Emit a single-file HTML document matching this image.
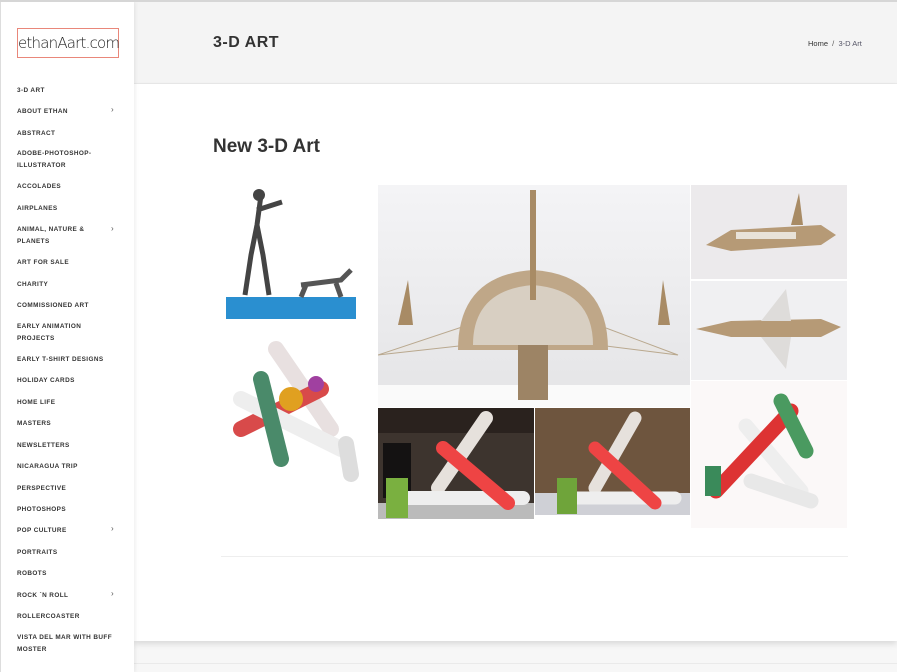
<!DOCTYPE html>
<html><head><meta charset="utf-8">
<style>
*{box-sizing:border-box;margin:0;padding:0}
body{width:897px;height:672px;overflow:hidden;background:#f7f7f7;font-family:"Liberation Sans",sans-serif;position:relative}
#topline{position:absolute;left:0;top:0;width:897px;height:2px;background:#d6d6d6;z-index:3}
#side{position:absolute;left:0;top:2px;width:134px;height:670px;background:#fff;border-left:1px solid #ddd;box-shadow:1px 0 4px rgba(0,0,0,.08);z-index:2}
#logo{position:absolute;left:16px;top:26px;width:102px;height:30px;border:1px solid #e9877a;font-family:"DejaVu Sans",sans-serif;font-size:15px;color:#222;line-height:28px;text-align:center;letter-spacing:-0.8px;font-weight:300}
.nav{position:absolute;left:16px;font-size:6.4px;font-weight:bold;color:#333;letter-spacing:.4px;line-height:12px;white-space:nowrap}
.arr{position:absolute;left:110px;font-size:8px;color:#555}
#head{position:absolute;left:134px;top:2px;width:763px;height:82px;background:#f4f4f4;border-bottom:1px solid #eaeaea}
#title{position:absolute;left:213px;top:34px;font-size:16px;font-weight:bold;color:#333;letter-spacing:.5px}
#crumb{position:absolute;left:808px;top:39px;font-size:7.5px;color:#555}
#main{position:absolute;left:134px;top:84px;width:763px;height:557px;background:#fff;box-shadow:0 3px 6px rgba(0,0,0,.12)}
#h2{position:absolute;left:213px;top:136px;font-size:19px;font-weight:bold;color:#333}
.img{position:absolute;overflow:hidden}
#hr{position:absolute;left:221px;top:556px;width:627px;height:1px;background:#eee}
#foot{position:absolute;left:134px;top:663px;width:763px;height:1px;background:#eaeaea}
</style></head><body>
<div id="topline"></div>
<div id="side">
<div id="logo">ethanAart.com</div>
<div class="nav" style="top:83px">3-D ART</div>
<div class="nav" style="top:104px">ABOUT ETHAN</div><span class="arr" style="top:103px">›</span>
<div class="nav" style="top:126px">ABSTRACT</div>
<div class="nav" style="top:146px">ADOBE-PHOTOSHOP-<br>ILLUSTRATOR</div>
<div class="nav" style="top:179px">ACCOLADES</div>
<div class="nav" style="top:201px">AIRPLANES</div>
<div class="nav" style="top:222px">ANIMAL, NATURE &amp;<br>PLANETS</div><span class="arr" style="top:222px">›</span>
<div class="nav" style="top:255px">ART FOR SALE</div>
<div class="nav" style="top:277px">CHARITY</div>
<div class="nav" style="top:298px">COMMISSIONED ART</div>
<div class="nav" style="top:319px">EARLY ANIMATION<br>PROJECTS</div>
<div class="nav" style="top:352px">EARLY T-SHIRT DESIGNS</div>
<div class="nav" style="top:373px">HOLIDAY CARDS</div>
<div class="nav" style="top:395px">HOME LIFE</div>
<div class="nav" style="top:416px">MASTERS</div>
<div class="nav" style="top:438px">NEWSLETTERS</div>
<div class="nav" style="top:459px">NICARAGUA TRIP</div>
<div class="nav" style="top:481px">PERSPECTIVE</div>
<div class="nav" style="top:502px">PHOTOSHOPS</div>
<div class="nav" style="top:523px">POP CULTURE</div><span class="arr" style="top:522px">›</span>
<div class="nav" style="top:545px">PORTRAITS</div>
<div class="nav" style="top:566px">ROBOTS</div>
<div class="nav" style="top:588px">ROCK `N ROLL</div><span class="arr" style="top:587px">›</span>
<div class="nav" style="top:609px">ROLLERCOASTER</div>
<div class="nav" style="top:630px">VISTA DEL MAR WITH BUFF<br>MOSTER</div>
</div>
<div id="head"></div>
<div id="title">3-D ART</div>
<div id="crumb"><span style="color:#333">Home</span> &nbsp;/&nbsp; <span style="color:#556">3-D Art</span></div>
<div id="main"></div>
<div id="h2">New 3-D Art</div>

<svg class="img" style="left:221px;top:185px" width="156" height="142">
<rect width="156" height="142" fill="#fff"/>
<rect x="5" y="112" width="130" height="22" fill="#2a8fd0"/>
<path d="M40 10 l-4 30 l-6 30 l-6 40 M36 40 l6 30 l6 40 M36 25 l25 -8" stroke="#444" stroke-width="5" fill="none"/>
<circle cx="38" cy="10" r="6" fill="#444"/>
<path d="M80 100 l40 -5 l10 -10 M85 100 l-5 12 M115 98 l5 14" stroke="#555" stroke-width="5" fill="none"/>
</svg>
<svg class="img" style="left:221px;top:329px" width="156" height="160">
<rect width="156" height="160" fill="#fff"/>
<g stroke-width="16" stroke-linecap="round">
<line x1="55" y1="20" x2="110" y2="100" stroke="#e8e0e0"/>
<line x1="20" y1="100" x2="100" y2="60" stroke="#d84a4a"/>
<line x1="20" y1="70" x2="120" y2="120" stroke="#eee"/>
<line x1="40" y1="50" x2="60" y2="130" stroke="#4a8a6a"/>
<line x1="125" y1="115" x2="130" y2="145" stroke="#ddd"/>
</g>
<circle cx="70" cy="70" r="12" fill="#e0a020"/><circle cx="95" cy="55" r="8" fill="#a040a0"/>
</svg>
<svg class="img" style="left:378px;top:185px" width="312" height="222">
<defs><linearGradient id="g1" x1="0" y1="0" x2="0" y2="1"><stop offset="0" stop-color="#f4f4f6"/><stop offset="1" stop-color="#e4e4e6"/></linearGradient></defs>
<rect width="312" height="222" fill="url(#g1)"/>
<rect x="0" y="200" width="312" height="22" fill="#fafafa"/>
<polygon points="0,170 90,140 220,140 300,170 220,160 90,160" fill="#e8e6e4" stroke="#b9a88e"/>
<path d="M80 165 Q80 90 155 85 Q230 90 230 165 Z" fill="#bfa788"/>
<path d="M95 160 Q95 105 155 100 Q215 105 215 160 Z" fill="#d8cfc2"/>
<rect x="152" y="5" width="6" height="110" fill="#a88b65"/>
<polygon points="20,140 30,95 35,140" fill="#a88b65"/><polygon points="280,140 285,95 292,140" fill="#a88b65"/>
<rect x="140" y="160" width="30" height="55" fill="#9d8465"/>
</svg>
<svg class="img" style="left:378px;top:408px" width="156" height="111">
<rect width="156" height="111" fill="#3d342e"/>
<rect x="0" y="0" width="156" height="25" fill="#2a221e"/>
<rect x="5" y="35" width="28" height="55" fill="#141212"/>
<rect x="0" y="95" width="156" height="16" fill="#bbb"/>
<g stroke-width="14" stroke-linecap="round">
<line x1="60" y1="80" x2="108" y2="10" stroke="#e6e1dc"/>
<line x1="30" y1="90" x2="145" y2="90" stroke="#eee"/>
<line x1="65" y1="40" x2="130" y2="95" stroke="#e44"/>
</g>
<rect x="8" y="70" width="22" height="40" fill="#7ab040"/>
</svg>
<svg class="img" style="left:535px;top:408px" width="155" height="107">
<rect width="155" height="107" fill="#6e553e"/>
<rect x="0" y="85" width="155" height="22" fill="#cfd0d6"/>
<g stroke-width="13" stroke-linecap="round">
<line x1="60" y1="80" x2="100" y2="10" stroke="#e6e1dc"/>
<line x1="35" y1="90" x2="140" y2="90" stroke="#eee"/>
<line x1="60" y1="40" x2="120" y2="95" stroke="#e44"/>
</g>
<rect x="22" y="70" width="20" height="36" fill="#6fa43a"/>
</svg>
<svg class="img" style="left:691px;top:185px" width="156" height="94">
<rect width="156" height="94" fill="#eceaec"/>
<polygon points="15,60 40,45 130,40 145,50 130,60 40,66" fill="#b69a76"/>
<polygon points="100,40 108,8 112,40" fill="#a88b65"/>
<rect x="45" y="47" width="60" height="7" fill="#e8e2d8"/>
</svg>
<svg class="img" style="left:691px;top:281px" width="156" height="99">
<rect width="156" height="99" fill="#f0f0f2"/>
<polygon points="5,48 40,40 130,38 150,46 130,56 40,56" fill="#b69a76"/>
<polygon points="70,40 95,8 100,40" fill="#dedcda"/><polygon points="70,56 95,88 100,56" fill="#dedcda"/>
</svg>
<svg class="img" style="left:691px;top:381px" width="156" height="147">
<rect width="156" height="147" fill="#fbf8f8"/>
<g stroke-width="15" stroke-linecap="round">
<line x1="55" y1="45" x2="110" y2="110" stroke="#eee"/>
<line x1="25" y1="110" x2="100" y2="30" stroke="#d33"/>
<line x1="90" y1="20" x2="115" y2="70" stroke="#4a9a60"/>
<line x1="60" y1="100" x2="120" y2="120" stroke="#e8e8e8"/>
</g>
<rect x="14" y="85" width="16" height="30" fill="#3a8a5a"/>
</svg>

<div id="hr"></div>
<div id="foot"></div>
</body></html>
